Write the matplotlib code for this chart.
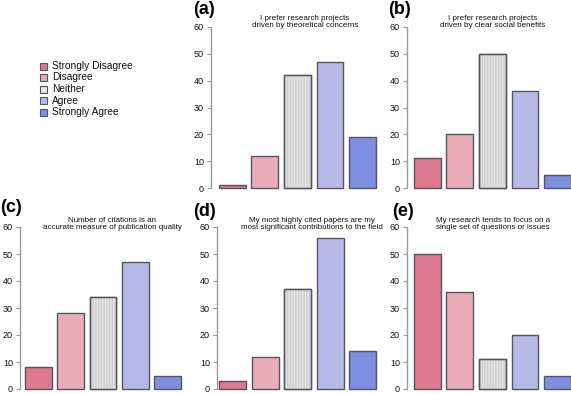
import matplotlib
matplotlib.use("Agg")
import matplotlib.pyplot as plt
from matplotlib.patches import Rectangle

plt.rcParams['font.family'] = ['Liberation Sans', 'DejaVu Sans']

categories = ["Strongly Disagree", "Disagree", "Neither", "Agree", "Strongly Agree"]
colors = ["#dd7a90", "#e8adb9", "#e5e5e5", "#b5bbe6", "#7d8fe0"]

vals_a = [1, 12, 42, 47, 19]
vals_b = [11, 20, 50, 36, 5]
vals_c = [8, 28, 34, 47, 5]
vals_d = [3, 12, 37, 56, 14]
vals_e = [50, 36, 11, 20, 5]

titles = {
    "a": "I prefer research projects\ndriven by theoretical concerns",
    "b": "I prefer research projects\ndriven by clear social benefits",
    "c": "Number of citations is an\naccurate measure of publication quality",
    "d": "My most highly cited papers are my\nmost significant contributions to the field",
    "e": "My research tends to focus on a\nsingle set of questions or issues",
}
yticks = [0, 10, 20, 30, 40, 50, 60]

W, H = 571, 394
fig = plt.figure(figsize=(W / 100, H / 100), dpi=100)

# panel layout in pixels: (axis_x, right_x, y60, y0, xlim_left, xlim_right)
layout = {
    "a": (211, 376, 27, 188, -0.66, 4.415),
    "b": (407, 571, 27, 188, -0.63, 4.415),
    "c": (20, 181, 227, 389, -0.574, 4.42),
    "d": (217, 376, 227, 389, -0.48, 4.415),
    "e": (407, 571, 227, 389, -0.63, 4.415),
}
data = {"a": vals_a, "b": vals_b, "c": vals_c, "d": vals_d, "e": vals_e}
label_pos = {"a": (193, 10), "b": (388, 10), "c": (0, 208), "d": (193, 211), "e": (392, 211)}
title_pos = {"a": (305, 22), "b": (493, 22), "c": (112, 224), "d": (312, 224), "e": (493, 224)}

edge = "#55555f"
for key, (x0, x1, y60, y0, xl, xr) in layout.items():
    ax = fig.add_axes([x0 / W, (H - y0) / H, (x1 - x0) / W, (y0 - y60) / H])
    xs = list(range(len(categories)))
    vals = data[key]
    ax.bar(xs, vals, width=0.83, color=colors, edgecolor=edge,
           linewidth=1.0, clip_on=False, zorder=2)
    # light vertical texture on the "Neither" bar
    ax.bar([xs[2]], [vals[2]], width=0.83, facecolor="none", edgecolor="#cfcfcf",
           hatch="||||||", linewidth=0, clip_on=False, zorder=3)
    ax.bar([xs[2]], [vals[2]], width=0.83, facecolor="none", edgecolor=edge,
           linewidth=1.0, clip_on=False, zorder=4)
    ax.set_xlim(xl, xr)
    ax.set_ylim(0, 60)
    ax.set_yticks(yticks)
    ax.set_xticks([])
    for s in ["top", "right", "bottom"]:
        ax.spines[s].set_visible(False)
    ax.spines["left"].set_color("#999999")
    ax.spines["left"].set_linewidth(1.0)
    ax.tick_params(axis="y", length=3, width=0.8, color="#999999", labelsize=6.5,
                   labelcolor="#111111", pad=2)
    ax.patch.set_alpha(0)
    lx, ly = label_pos[key]
    fig.text(lx / W, 1 - ly / H, f"({key})", fontsize=13, fontweight="bold",
             ha="left", va="center")
    tx, ty = title_pos[key]
    fig.text(tx / W, 1 - ty / H, titles[key], fontsize=5.8, ha="center", va="center",
             linespacing=0.95, color="#111111")

# legend
ly0 = 66
for i, (cat, col) in enumerate(zip(categories, colors)):
    y = ly0 + i * 11.5
    fig.patches.append(Rectangle((40 / W, 1 - (y + 3.5) / H), 7 / W, 7 / H,
                                 facecolor=col, edgecolor=edge, linewidth=0.8,
                                 transform=fig.transFigure, figure=fig))
    fig.text(52 / W, 1 - y / H, cat, fontsize=7.3, ha="left", va="center", color="#111111")

fig.savefig("out.png", dpi=100)
